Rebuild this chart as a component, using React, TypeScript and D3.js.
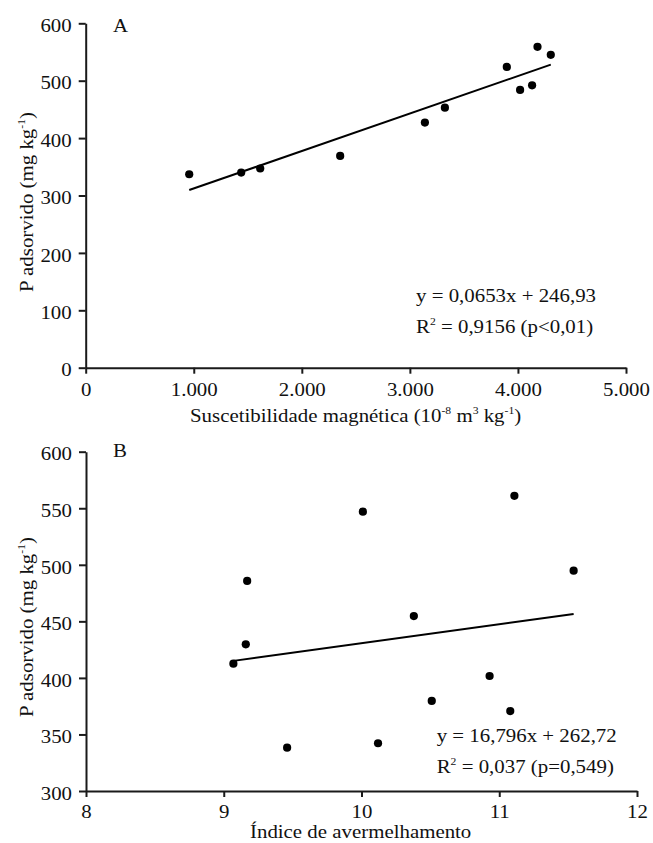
import React, { useEffect, useRef } from "react";
import * as d3 from "d3";

// Panel A: magnetic susceptibility vs P adsorbed
const suscetibilidade = [958, 1439, 1615, 2355, 3139, 3324, 3897, 4020, 4131, 4181, 4304];
const pAdsorvidoA = [337, 340, 347, 369, 427, 453, 524, 484, 492, 559, 545];
const aXTicks = [0, 1000, 2000, 3000, 4000, 5000];
const aXTickLabels = ["0", "1.000", "2.000", "3.000", "4.000", "5.000"];
const aYTicks = [0, 100, 200, 300, 400, 500, 600];
const aFit = { slope: 0.0653, intercept: 246.93, x0: 958, x1: 4304 };

// Panel B: redness index vs P adsorbed
const indiceAvermelhamento = [9.17, 10.01, 11.11, 11.54, 10.38, 9.16, 9.07, 9.46, 10.93, 10.51, 11.08, 10.12];
const pAdsorvidoB = [485.7, 547, 561, 494.8, 454.7, 429.7, 412.6, 338.3, 401.7, 379.6, 370.7, 342.2];
const bXTicks = [8, 9, 10, 11, 12];
const bYTicks = [300, 350, 400, 450, 500, 550, 600];
const bFit = { slope: 16.796, intercept: 262.72, x0: 9.07, x1: 11.54 };

const FONT = '"Liberation Serif", "Times New Roman", Times, serif';
const FS = 18.8;
const SX = 1.11;
const SUP = 10.5;

type PanelProps = {
  xs: number[];
  ys: number[];
  xDomain: [number, number];
  yDomain: [number, number];
  xRange: [number, number];
  yRange: [number, number];
  xTicks: number[];
  xTickLabels: string[];
  yTicks: number[];
  xPad: number;
  fit: { slope: number; intercept: number; x0: number; x1: number };
};

function Panel(p: PanelProps) {
  const xRef = useRef<SVGGElement>(null);
  const yRef = useRef<SVGGElement>(null);
  const x = d3.scaleLinear().domain(p.xDomain).range(p.xRange);
  const y = d3.scaleLinear().domain(p.yDomain).range(p.yRange);

  useEffect(() => {
    const xa = d3
      .axisBottom(x)
      .tickValues(p.xTicks)
      .tickSize(6)
      .tickSizeOuter(0)
      .tickPadding(p.xPad)
      .tickFormat((d, i) => p.xTickLabels[i]);
    const ya = d3
      .axisLeft(y)
      .tickValues(p.yTicks)
      .tickSize(7)
      .tickSizeOuter(0)
      .tickPadding(14 / SX - 7)
      .tickFormat((d) => String(d));
    const gx = d3.select(xRef.current!);
    gx.call(xa as any);
    const gy = d3.select(yRef.current!);
    gy.call(ya as any);
    [gx, gy].forEach((g) => {
      g.attr("font-family", FONT).attr("font-size", FS);
      g.selectAll("path.domain").attr("stroke", "#1a1a1a").attr("stroke-width", 2);
      g.selectAll(".tick line").attr("stroke", "#1a1a1a").attr("stroke-width", 2);
      g.selectAll(".tick text")
        .attr("fill", "#111")
        .attr("font-family", FONT)
        .attr("font-size", FS)
        .attr("transform", `scale(${SX},1)`);
    });
    gy.selectAll(".tick text").attr("dy", "0.44em");
  });

  const line = d3
    .line<number>()
    .x((d) => x(d))
    .y((d) => y(p.fit.slope * d + p.fit.intercept));

  return (
    <g>
      <g ref={xRef} transform={`translate(0,${p.yRange[0]})`} />
      <g ref={yRef} transform={`translate(${p.xRange[0]},0)`} />
      <path d={line([p.fit.x0, p.fit.x1]) || ""} stroke="#000" strokeWidth={2} fill="none" />
      {p.xs.map((v, i) => (
        <circle key={i} cx={x(v)} cy={y(p.ys[i])} r={4.1} fill="#000" />
      ))}
    </g>
  );
}

function T({ x, y, rot, anchor, children }: { x: number; y: number; rot?: number; anchor?: string; children: React.ReactNode }) {
  return (
    <g transform={`translate(${x},${y})${rot ? ` rotate(${rot})` : ""} scale(${SX},1)`}>
      <text x={0} y={0} textAnchor={anchor || "start"}>
        {children}
      </text>
    </g>
  );
}

const YTitle = () => (
  <>
    P adsorvido (mg kg<tspan fontSize={SUP} dy={-8}>-1</tspan>
    <tspan dy={8}>)</tspan>
  </>
);

export default function App() {
  return (
    <svg
      width={653}
      height={843}
      style={{ position: "absolute", left: 0, top: 0, background: "#fff", fontFamily: FONT }}
      fontFamily={FONT}
      fontSize={FS}
      fill="#111"
    >
      <rect width={653} height={843} fill="#fff" />
      {/* Panel A */}
      <Panel
        xs={suscetibilidade}
        ys={pAdsorvidoA}
        xDomain={[0, 5000]}
        yDomain={[0, 600]}
        xRange={[85.7, 626]}
        yRange={[367.7, 23.3]}
        xTicks={aXTicks}
        xTickLabels={aXTickLabels}
        yTicks={aYTicks}
        xPad={9.4}
        fit={aFit}
      />
      <T x={113} y={31.7}>A</T>
      <T x={416} y={301.7}>y = 0,0653x + 246,93</T>
      <T x={416} y={333}>
        R<tspan fontSize={SUP} dy={-8}>2</tspan>
        <tspan dy={8}> = 0,9156 (p&lt;0,01)</tspan>
      </T>
      <T x={190} y={421.7}>
        Suscetibilidade magnética (10<tspan fontSize={SUP} dy={-8}>-8</tspan>
        <tspan dy={8}> m</tspan>
        <tspan fontSize={SUP} dy={-8}>3</tspan>
        <tspan dy={8}> kg</tspan>
        <tspan fontSize={SUP} dy={-8}>-1</tspan>
        <tspan dy={8}>)</tspan>
      </T>
      <T x={33} y={202} rot={-90} anchor="middle">
        <YTitle />
      </T>

      {/* Panel B */}
      <Panel
        xs={indiceAvermelhamento}
        ys={pAdsorvidoB}
        xDomain={[8, 12]}
        yDomain={[300, 600]}
        xRange={[86, 637]}
        yRange={[791, 451.7]}
        xTicks={bXTicks}
        xTickLabels={bXTicks.map(String)}
        yTicks={bYTicks}
        xPad={7.5}
        fit={bFit}
      />
      <T x={113} y={457}>B</T>
      <T x={436.7} y={741.7}>y = 16,796x + 262,72</T>
      <T x={436.7} y={772.7}>
        R<tspan fontSize={SUP} dy={-8}>2</tspan>
        <tspan dy={8}> = 0,037 (p=0,549)</tspan>
      </T>
      <T x={250} y={837.7}>Índice de avermelhamento</T>
      <T x={33} y={627} rot={-90} anchor="middle">
        <YTitle />
      </T>
    </svg>
  );
}
